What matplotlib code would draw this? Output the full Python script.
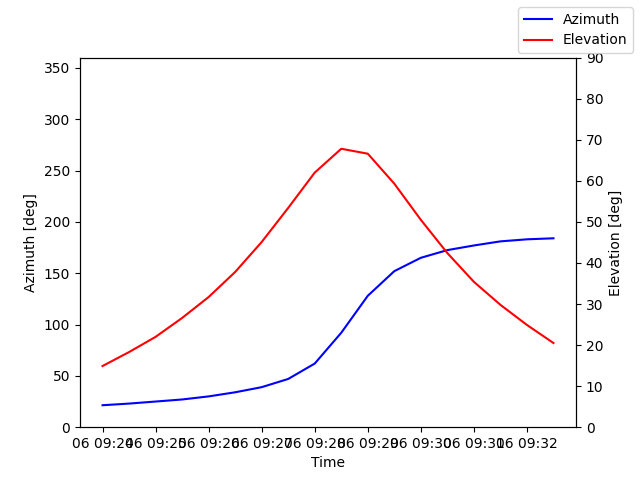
import matplotlib
matplotlib.use("Agg")
import matplotlib.pyplot as plt
import matplotlib.dates as mdates
import pandas as pd

times = pd.date_range("2023-01-06 09:24:00", periods=18, freq="30s")
azimuth = [21.4, 23, 25, 27, 30, 34, 39, 47, 62, 92, 128, 152, 165, 172.5, 177, 181, 183, 184]
elevation = [14.9, 18.3, 22, 26.6, 31.7, 37.8, 45.1, 53.4, 62, 67.8, 66.6, 59.3, 50.5, 42.4,
             35.4, 29.8, 24.9, 20.5]

fig, ax = plt.subplots(figsize=(6.4, 4.8), dpi=100)
ax.plot(times, azimuth, color="blue", label="Azimuth")
ax.set_ylim(0, 360)
ax.set_ylabel("Azimuth [deg]")
ax.set_xlabel("Time")
ax.xaxis.set_major_formatter(mdates.DateFormatter("%d %H:%M"))

ax2 = ax.twinx()
ax2.plot(times, elevation, color="red", label="Elevation")
ax2.set_ylim(0, 90)
ax2.set_ylabel("Elevation [deg]")

fig.legend(loc="upper right")
fig.savefig("out.png")
